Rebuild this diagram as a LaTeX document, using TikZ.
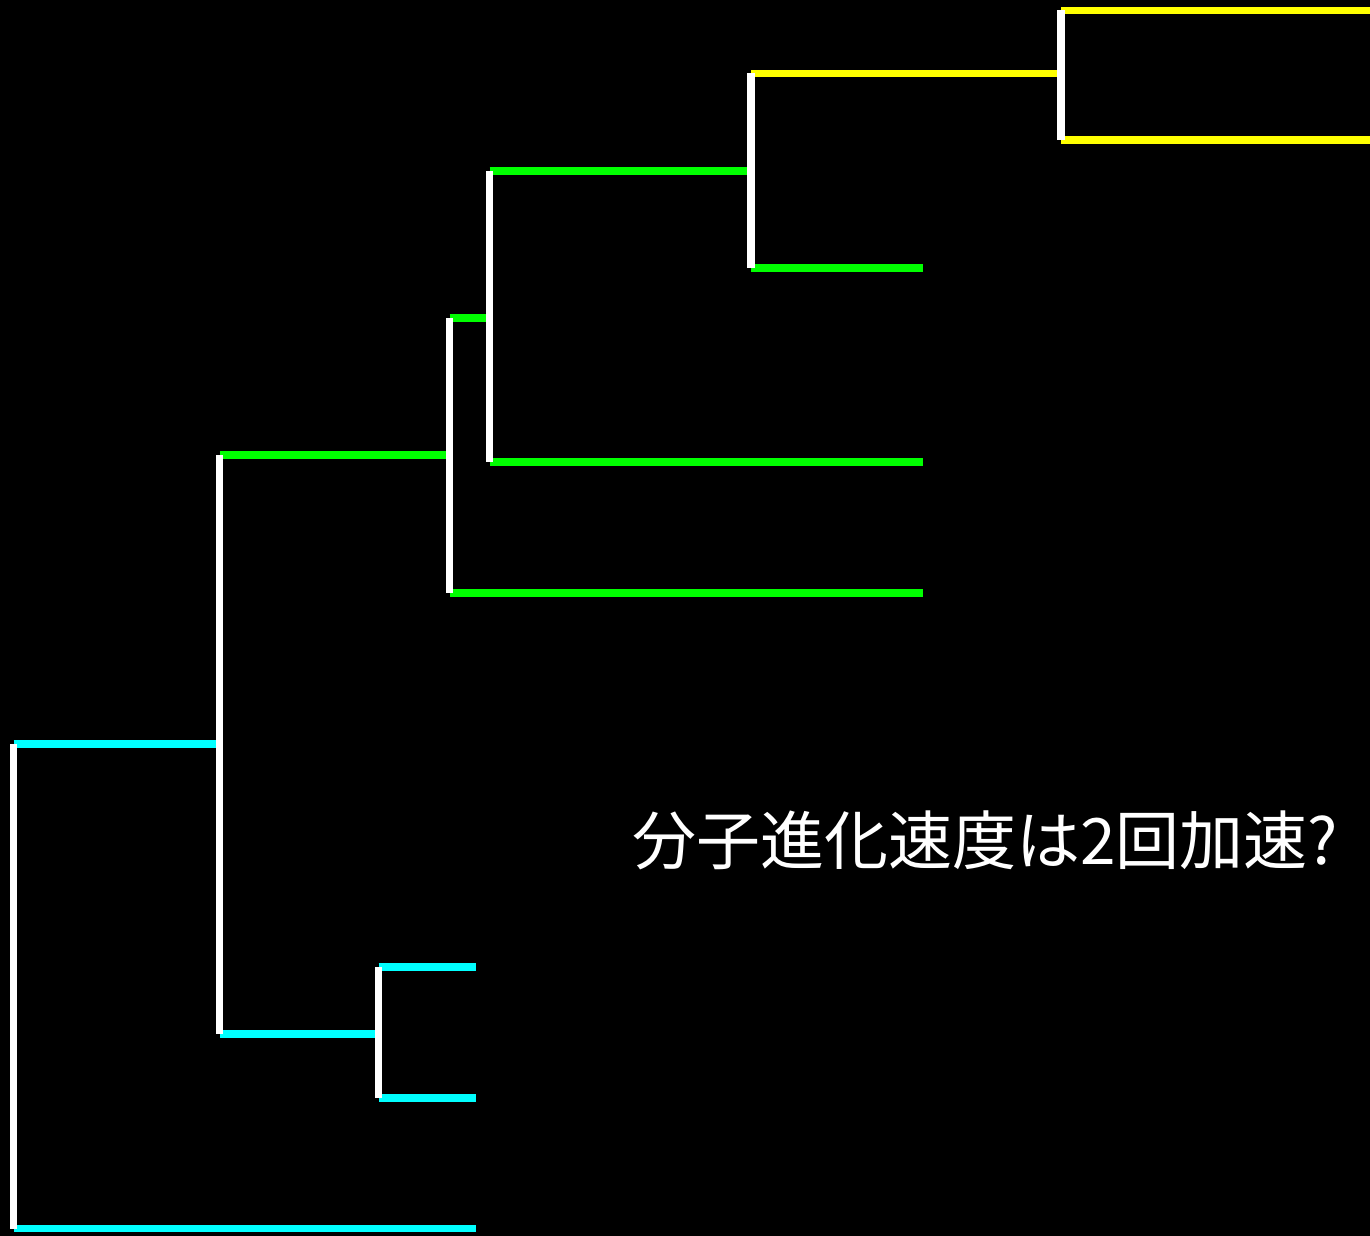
\documentclass[tikz,border=0pt]{standalone}
\usepackage{fontspec}
\newfontfamily\cjk{Noto Sans CJK JP}
\definecolor{brcyan}{RGB}{0,255,255}
\definecolor{brgreen}{RGB}{0,255,0}
\definecolor{bryellow}{RGB}{255,255,0}
\begin{document}
\begin{tikzpicture}[x=1pt,y=-1pt,
  br/.style={line width=7.5pt},
  vert/.style={white,line width=7.5pt},
  cy/.style={br,draw=brcyan},
  gr/.style={br,draw=brgreen},
  ye/.style={br,draw=bryellow},
  lbl/.style={text=white,inner sep=0pt,font=\cjk\fontsize{64}{70}\selectfont}]
\fill[black] (0,0) rectangle (1370,1236);
\useasboundingbox (0,0) rectangle (1370,1236);
% internal node tops / bottoms
\coordinate (At) at (13.5,744);   \coordinate (Ab) at (13.5,1228.5);
\coordinate (Bt) at (219.5,455);  \coordinate (Bb) at (219.5,1034);
\coordinate (Dt) at (378.5,967);  \coordinate (Db) at (378.5,1098);
\coordinate (Ct) at (449.5,318);  \coordinate (Cb) at (449.5,593);
\coordinate (Et) at (489.5,171);  \coordinate (Eb) at (489.5,462);
\coordinate (Ft) at (751,73.5);   \coordinate (Fb) at (751,268);
\coordinate (Gt) at (1061,10.5);  \coordinate (Gb) at (1061,140);
% leaves
\coordinate (L1) at (476,1228.5);
\coordinate (L2) at (476,967);
\coordinate (L3) at (476,1098);
\coordinate (L4) at (923,593);
\coordinate (L5) at (923,462);
\coordinate (L6) at (923,268);
\coordinate (L7) at (1370,10.5);
\coordinate (L8) at (1370,140);
% horizontal branches
\draw[cy] (At) -- (At -| Bt);
\draw[cy] (Ab) -- (L1);
\draw[gr] (Bt) -- (Bt -| Ct);
\draw[cy] (Bb) -- (Bb -| Dt);
\draw[cy] (Dt) -- (L2);
\draw[cy] (Db) -- (L3);
\draw[gr] (Ct) -- (Ct -| Et);
\draw[gr] (Cb) -- (L4);
\draw[gr] (Et) -- (Et -| Ft);
\draw[gr] (Eb) -- (L5);
\draw[ye] (Ft) -- (Ft -| Gt);
\draw[gr] (Fb) -- (L6);
\draw[ye] (Gt) -- (L7);
\draw[ye] (Gb) -- (L8);
% vertical connectors
\draw[vert] (At) -- (Ab);
\draw[vert] (Bt) -- (Bb);
\draw[vert] (Dt) -- (Db);
\draw[vert] (Ct) -- (Cb);
\draw[vert] (Et) -- (Eb);
\draw[vert] (Ft) -- (Fb);
\draw[vert] (Gt) -- (Gb);
\node[lbl] (label) at (985,840) {分子進化速度は2回加速?};
\end{tikzpicture}
\end{document}
